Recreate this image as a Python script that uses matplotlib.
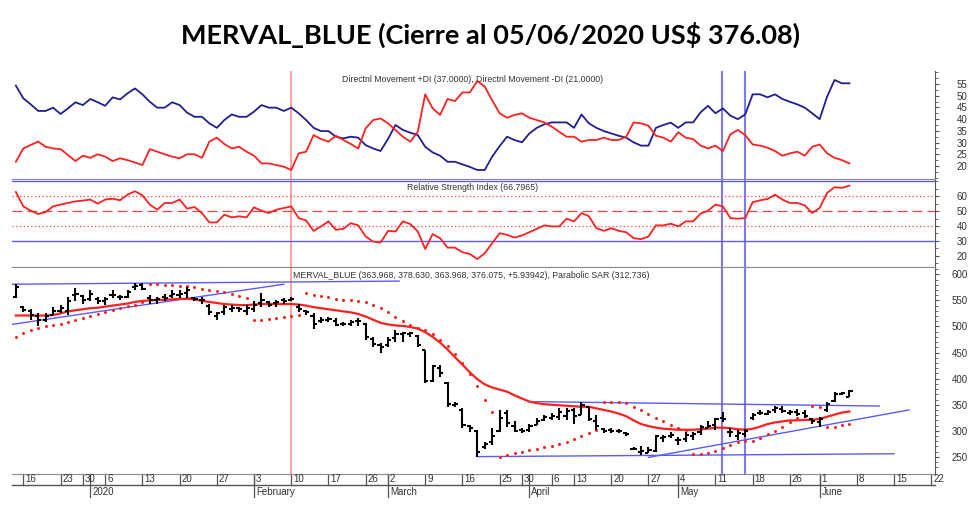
import matplotlib
matplotlib.use("Agg")
import matplotlib.pyplot as plt
import matplotlib.transforms as mtransforms
import numpy as np

W, H = 980, 507

# ---- data, one entry per trading day, 13 Dec 2019 .. 05 Jun 2020
opens = [556, 538, 530, 520, 513, 522, 530, 530, 560, 558, 552, 552, 548, 560, 556, 556, 575, 580, 554, 550,
         556, 558, 560, 565, 554, 550, 540, 520, 528, 534, 535, 530, 534, 545, 546, 545, 550, 551, 538, 530,
         520, 510, 512, 510, 505, 505, 510, 505, 476, 465, 465, 478, 485, 486, 482, 455, 396, 420, 392, 350,
         340, 310, 300, 268, 278, 300, 335, 310, 302, 302, 312, 320, 325, 326, 328, 340, 330, 345, 318, 303,
         301, 300, 296, 266, 260, 258, 262, 286, 290, 283, 284, 290, 298, 306, 312, 325, 298, 290, 294, 325,
         335, 333, 340, 342, 334, 336, 334, 322, 316, 340, 358, 371, 363.968]
highs = [581, 540, 533, 525, 525, 538, 541, 557, 573, 560, 570, 557, 557, 570, 560, 570, 583, 583, 560, 557,
         562, 570, 570, 576, 557, 557, 544, 528, 541, 541, 538, 541, 548, 564, 548, 551, 554, 556, 544, 532,
         525, 519, 519, 516, 509, 512, 516, 506, 480, 468, 480, 493, 490, 490, 484, 455, 426, 426, 394, 356,
         343, 311, 302, 279, 305, 340, 340, 318, 305, 314, 324, 330, 334, 343, 343, 343, 356, 346, 330, 305,
         305, 303, 298, 268, 270, 268, 292, 292, 298, 289, 298, 298, 311, 318, 324, 337, 305, 302, 303, 334,
         340, 340, 348, 347, 340, 341, 340, 324, 327, 356, 375, 374, 378.63]
lows = [554, 528, 512, 500, 509, 522, 525, 522, 548, 544, 548, 544, 541, 554, 551, 554, 570, 570, 544, 544,
        548, 554, 554, 554, 548, 544, 522, 512, 522, 528, 528, 522, 528, 538, 538, 538, 544, 548, 528, 522,
        496, 506, 509, 500, 500, 500, 500, 474, 461, 449, 461, 471, 471, 480, 461, 391, 394, 404, 346, 346,
        305, 298, 250, 266, 273, 298, 308, 298, 295, 298, 311, 318, 321, 321, 321, 314, 330, 318, 302, 295,
        296, 295, 290, 263, 254, 257, 260, 279, 286, 273, 279, 282, 292, 305, 302, 316, 289, 282, 289, 321,
        330, 330, 334, 334, 330, 328, 324, 314, 308, 337, 356, 369, 363.968]
closes = [575, 532, 522, 512, 520, 530, 536, 548, 562, 550, 562, 548, 552, 560, 556, 566, 578, 572, 550, 552,
          555, 562, 562, 570, 552, 551, 528, 525, 538, 535, 534, 536, 542, 550, 542, 547, 548, 552, 533, 528,
          505, 512, 514, 503, 504, 509, 511, 480, 466, 460, 475, 485, 488, 488, 465, 395, 424, 410, 352, 351,
          312, 305, 260, 275, 290, 325, 315, 300, 300, 310, 318, 326, 328, 336, 338, 328, 350, 322, 310, 300,
          300, 299, 293, 266, 262, 263, 290, 288, 292, 282, 292, 293, 308, 310, 322, 322, 298, 295, 299, 330,
          335, 336, 344, 338, 336, 332, 328, 318, 322, 352, 370, 372, 376.075]
ma = [521, 521, 521, 521, 521, 522, 525, 529, 531, 533, 535, 536, 538, 540, 542, 544, 547, 549, 550, 551,
      551, 552, 553, 553, 552, 549, 547, 545, 543, 542, 541, 541, 542, 543, 543, 543, 543, 543, 542, 540,
      537, 535, 533, 531, 529, 527, 524, 519, 513, 507, 504, 502, 501, 499, 496, 489, 480, 469, 456, 441,
      427, 412, 399, 389, 383, 379, 375, 368, 362, 356, 353, 351, 350, 349, 348, 347, 346, 346, 343, 340,
      337, 333, 328, 320, 313, 309, 306, 304, 303, 302, 302, 302, 303, 304, 306, 306, 305, 303, 302, 304,
      308, 313, 316, 318, 320, 320, 321, 321, 323, 327, 331, 335, 337]
sar = [480, 487.5, 494, 498, 500, 502, 505, 509, 513, 516, 520, 524, 528, 531, 535, 539, 542, 546, 582, 582,
       580, 579, 578, 577, 575, 572.5, 570.5, 568.5, 565.5, 562, 559, 555, 513, 513, 515, 516, 517.5, 519.5, 522, 564,
       561, 558, 556, 553, 551, 550, 548, 546, 541, 535, 527, 519, 511, 502, 498, 494, 485, 474, 462, 447,
       430, 408, 385, 360, 337, 250.5, 253.5, 257, 260, 263, 265, 268, 271, 275, 278.5, 283.5, 290, 296, 301, 356,
       356, 356, 353, 346, 340, 332, 324, 319, 311, 306, 301, 255, 255.5, 258, 262, 267, 273, 279, 281, 281,
       287, 294, 300, 308, 316, 324, 328, 347.5, 346, 308, 307, 310.5, 312.7]
di_plus = [54.3, 48.9, 46.3, 43.5, 43.5, 44.9, 42.2, 44.6, 47.2, 46.0, 48.6, 47.2, 45.7, 49.3, 48.4, 51.0, 53.1, 50.6, 47.4, 44.9,
           44.9, 47.2, 46.0, 42.8, 41.0, 41.0, 38.2, 36.3, 39.6, 42.0, 41.0, 41.0, 43.2, 46.0, 44.9, 44.9, 43.5, 44.9, 42.5, 39.6,
           36.3, 34.9, 34.9, 32.5, 31.8, 32.5, 32.1, 28.9, 27.5, 26.4, 31.5, 37.5, 35.4, 34.2, 33.2, 28.2, 25.8, 24.4, 21.8, 21.8,
           20.7, 19.6, 18.3, 18.3, 24.0, 28.5, 32.5, 31.1, 30.1, 33.9, 36.3, 37.8, 38.6, 38.6, 38.6, 36.3, 42.0, 38.2, 36.3, 34.9,
           33.9, 32.9, 32.1, 30.1, 28.7, 28.7, 36.3, 37.5, 38.5, 36.3, 38.6, 38.6, 42.9, 45.7, 42.5, 44.6, 41.5, 40.0, 42.0, 50.6,
           50.6, 49.3, 50.6, 48.6, 47.4, 46.3, 44.9, 42.5, 40.0, 49.6, 56.7, 55.3, 55.3]
di_minus = [21.8, 27.5, 29.0, 30.4, 28.2, 27.5, 27.2, 24.7, 22.1, 24.4, 23.5, 25.0, 24.0, 22.1, 23.3, 22.5, 21.5, 20.4, 27.2, 26.1,
            25.0, 24.0, 23.3, 25.0, 25.0, 23.5, 30.4, 32.1, 29.4, 27.5, 28.2, 26.1, 24.4, 21.1, 21.1, 20.4, 19.7, 18.3, 25.4, 26.1,
            33.2, 31.5, 30.4, 32.9, 31.1, 29.4, 27.5, 36.1, 39.6, 40.3, 38.2, 35.4, 32.5, 30.4, 34.6, 50.6, 44.6, 41.8, 48.6, 47.7,
            51.4, 51.4, 56.3, 53.9, 48.0, 42.5, 40.6, 41.8, 42.5, 40.6, 39.6, 38.6, 36.8, 34.6, 32.5, 32.5, 30.4, 31.1, 31.1, 32.1,
            31.1, 31.1, 32.5, 38.6, 38.2, 37.2, 32.9, 32.1, 30.4, 34.4, 32.1, 31.5, 28.7, 27.5, 28.7, 26.4, 33.5, 35.4, 33.2, 29.2,
            28.7, 27.8, 26.4, 24.4, 25.4, 26.1, 24.4, 28.2, 29.2, 25.4, 23.5, 22.5, 21.1]
rsi = [62.9, 53.2, 50.3, 48.0, 49.4, 53.2, 54.4, 55.5, 56.6, 57.1, 57.8, 55.0, 57.8, 58.4, 57.3, 61.1, 63.4, 60.7, 54.4, 51.0,
       55.5, 55.5, 57.8, 51.7, 52.8, 48.7, 42.4, 42.4, 47.6, 45.8, 46.5, 45.8, 52.6, 50.3, 48.7, 51.0, 52.1, 53.2, 45.3, 43.7,
       36.7, 39.7, 43.1, 37.4, 38.1, 41.9, 40.4, 32.9, 29.5, 28.8, 36.7, 36.3, 43.1, 41.3, 36.3, 24.5, 34.5, 31.8, 25.4, 25.4,
       22.3, 21.1, 17.7, 21.6, 28.4, 35.1, 34.0, 32.2, 33.6, 35.8, 38.1, 40.4, 39.7, 39.7, 44.9, 43.1, 48.7, 46.5, 38.5, 36.7,
       38.5, 36.7, 35.8, 31.8, 31.1, 32.9, 40.4, 40.4, 41.5, 39.7, 43.1, 43.1, 48.3, 50.3, 54.4, 53.2, 45.3, 44.9, 45.3, 56.0,
       57.3, 58.2, 61.1, 57.8, 55.5, 55.5, 53.9, 48.7, 52.1, 62.3, 66.1, 65.7, 67.2]

# trend lines drawn on the price panel: (day0, price0, day1, price1)
trend_lines = [(-0.5, 581, 51.5, 587), (-0.5, 504, 36, 581), (62, 250.5, 118, 256),
               (69, 356, 116, 347.5), (85, 249, 120, 340)]
red_mark = 37
blue_marks = [94.9, 98.0]

day_ticks = [1, 6, 9, 12, 17, 22, 27, 32, 37, 42, 47, 50, 55, 60, 65, 68, 72, 75, 80, 85, 89, 94, 99, 104, 108, 113, 118, 123]
day_labels = ['16', '23', '30', '6', '13', '20', '27', '3', '10', '17', '26', '2', '9', '16', '25', '30', '6', '13', '20',
              '27', '4', '11', '18', '26', '1', '8', '15', '22']
month_ticks = [10, 32, 50, 69, 89, 108]
month_labels = ['2020', 'February', 'March', 'April', 'May', 'June']

x = np.arange(len(closes))
XL = (-0.52, 123.5)
GRAY = '#8c8c8c'
TXT = '#333333'
RED = '#ff2020'
NAVY = '#1f1f8f'
TBLUE = '#5a5aff'

plt.rcParams['font.family'] = ['Liberation Sans', 'DejaVu Sans']

fig = plt.figure(figsize=(W / 100, H / 100), dpi=100)


def rect(x0, y0, x1, y1):
    return [x0 / W, 1 - y1 / H, (x1 - x0) / W, (y1 - y0) / H]


ax1 = fig.add_axes(rect(12, 71, 935, 179))
ax2 = fig.add_axes(rect(12, 179, 935, 267))
ax3 = fig.add_axes(rect(12, 267, 935, 474))

for ax in (ax1, ax2, ax3):
    ax.set_xlim(*XL)
    ax.set_xticks([])
    ax.spines['left'].set_visible(False)
    ax.spines['right'].set_color('#555555')
    ax.spines['top'].set_color(GRAY)
    ax.spines['bottom'].set_color(GRAY)
    ax.yaxis.tick_right()
    ax.tick_params(axis='y', which='major', direction='out', length=3, pad=20.5,
                   labelsize=7, colors='#555555', labelcolor=TXT)
    ax.tick_params(axis='y', which='minor', direction='out', length=2, colors='#555555')
    ax.axvline(red_mark, color='#ff9090', lw=1.2, zorder=1)
    for b in blue_marks:
        ax.axvline(b, color='#7a7aff', lw=1.5, zorder=1)

ax1.spines['top'].set_visible(False)

# ---- DI panel
ax1.plot(x, di_plus, color=NAVY, lw=1.3)
ax1.plot(x, di_minus, color=RED, lw=1.3)
ax1.set_ylim(14.45, 60.55)
ax1.set_yticks(range(20, 60, 5))
ax1.set_yticks(np.arange(15, 60.1, 2.5), minor=True)

# ---- RSI panel
ax2.axhline(70, color=TBLUE, lw=1)
ax2.axhline(30, color=TBLUE, lw=1)
ax2.axhline(60, color='#ff4040', lw=0.9, ls=(0, (1, 2)))
ax2.axhline(40, color='#ff4040', lw=0.9, ls=(0, (1, 2)))
ax2.axhline(50, color='#ff4040', lw=0.9, ls=(0, (8, 4)))
ax2.plot(x, rsi, color=RED, lw=1.3)
ax2.set_ylim(12.34, 71.66)
ax2.set_yticks([20, 30, 40, 50, 60])
ax2.set_yticks(range(15, 71, 5), minor=True)

# ---- price panel
for (a0, p0, a1, p1) in trend_lines:
    ax3.plot([a0, a1], [p0, p1], color=TBLUE, lw=1, zorder=2)
ax3.plot(x, ma, color=RED, lw=1.6, zorder=3)
ax3.plot(x, sar, 'o', color=RED, ms=2.2, mew=0, zorder=3)
ax3.vlines(x, lows, highs, color='black', lw=1.5, zorder=4)
ax3.hlines(opens, x - 0.42, x, color='black', lw=1.5, zorder=4)
ax3.hlines(closes, x, x + 0.42, color='black', lw=1.5, zorder=4)
ax3.set_ylim(217.2, 614)
ax3.set_yticks(range(250, 601, 50))
ax3.set_yticks(range(230, 611, 10), minor=True)

for ax in (ax1, ax2, ax3):
    for lbl in ax.get_yticklabels():
        lbl.set_horizontalalignment('right')

# ---- date axis under the price panel
hpx = 474 - 267
trans = mtransforms.blended_transform_factory(ax3.transData, ax3.transAxes)
y_row = -11 / hpx
y_mon = -23 / hpx
ax3.plot([0, 1], [y_row, y_row], transform=ax3.transAxes, color='#555555', lw=1, clip_on=False)
for t, lab in zip(day_ticks, day_labels):
    ax3.plot([t, t], [0, y_row], transform=trans, color='#555555', lw=0.9, clip_on=False)
    ax3.text(t + 0.25, -5.5 / hpx, lab, transform=trans, fontsize=7, color=TXT,
             ha='left', va='center', clip_on=False)
for t, lab in zip(month_ticks, month_labels):
    ax3.plot([t, t], [0, y_mon], transform=trans, color='#555555', lw=0.9, clip_on=False)
    ax3.text(t + 0.25, -18 / hpx, lab, transform=trans, fontsize=7, color=TXT,
             ha='left', va='center', clip_on=False)

# ---- labels
fig.text(342 / W, 1 - 79 / H, 'Directnl Movement +DI (37.0000), Directnl Movement -DI (21.0000)',
         fontsize=6.3, color=TXT, ha='left', va='center')
fig.text(407 / W, 1 - 187 / H, 'Relative Strength Index (66.7965)',
         fontsize=6.3, color=TXT, ha='left', va='center')
fig.text(293 / W, 1 - 276 / H,
         'MERVAL_BLUE (363.968, 378.630, 363.968, 376.075, +5.93942), Parabolic SAR (312.736)',
         fontsize=6.3, color=TXT, ha='left', va='center')
fig.text(0.5, 1 - 35 / H, 'MERVAL_BLUE (Cierre al 05/06/2020 US$ 376.08)',
         fontsize=19.5, fontweight='bold', ha='center', va='center', family=['Lato', 'DejaVu Sans'])

fig.savefig('out.png', dpi=100)
